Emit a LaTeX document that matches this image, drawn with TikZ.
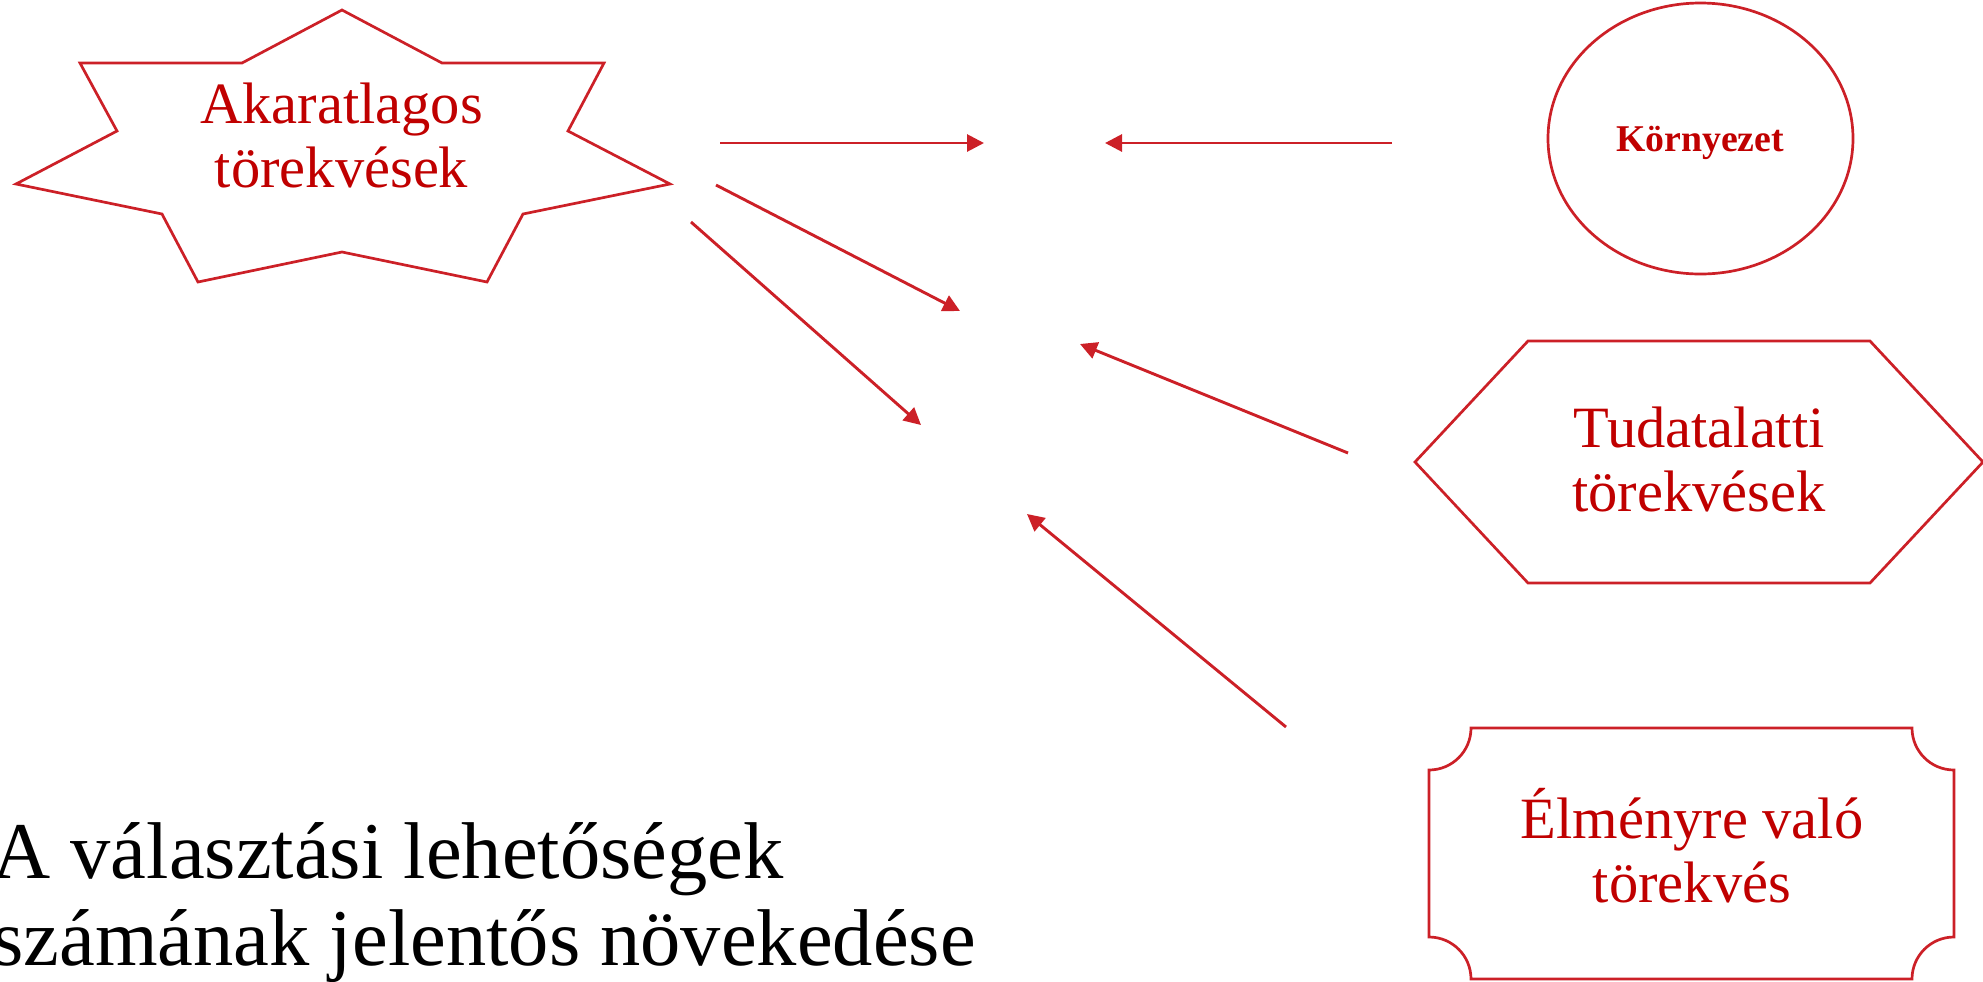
\documentclass[tikz,border=0pt]{standalone}
\usepackage{fontspec}
\setmainfont{Liberation Serif}
\usetikzlibrary{arrows.meta,shapes.geometric}
\definecolor{linered}{RGB}{204,32,39}
\definecolor{textred}{RGB}{192,0,0}
\newcommand{\twolines}[3][c]{\begin{tabular}[t]{@{}#1@{}}#2\\#3\end{tabular}}
\begin{document}
\begin{tikzpicture}[x=0.5pt,y=-0.5pt,
  shapeline/.style={draw=linered,line width=1.35pt,line join=miter},
  conn/.style={draw=linered,line width=1.45pt,-{Triangle[length=8.5pt,width=8.5pt]}},
  redtext/.style={text=textred,inner sep=0pt,anchor=base,font=\fontsize{29.25}{32.25}\selectfont},
]
\useasboundingbox (0,0) rectangle (1983,981);

% seven-point star
\draw[shapeline] (342,10) -- (442,63) -- (604,63) -- (568,131) -- (670,184) -- (523,214)
  -- (487,282) -- (342,252) -- (198,282) -- (162,214) -- (16,184) -- (117,131)
  -- (80,63) -- (242,63) -- cycle;

% ellipse
\node[shapeline, ellipse, minimum width=152.5pt, minimum height=135.5pt, inner sep=0pt] (envshape) at (1700.5,138.5) {};

% hexagon
\draw[shapeline] (1415,462) -- (1528,341) -- (1870,341) -- (1983,462) -- (1870,583) -- (1528,583) -- cycle;

% plaque
\draw[shapeline] (1471,728) -- (1912,728)
  .. controls (1912,751.2) and (1930.8,770) .. (1954,770)
  -- (1954,937)
  .. controls (1930.8,937) and (1912,955.8) .. (1912,979)
  -- (1471,979)
  .. controls (1471,955.8) and (1452.2,937) .. (1429,937)
  -- (1429,770)
  .. controls (1452.2,770) and (1471,751.2) .. (1471,728) -- cycle;

% texts
\node[redtext] (akarat) at (341.5,123) {\twolines{Akaratlagos}{törekvések}};
\node[redtext, font=\bfseries\fontsize{18.9}{22}\selectfont] (env) at (1700,151) {Környezet};
\node[redtext] (tudat) at (1699,447) {\twolines{Tudatalatti}{törekvések}};
\node[redtext] (elmeny) at (1692,838) {\twolines{Élményre való}{törekvés}};
\node[inner sep=0pt, anchor=base west, font=\fontsize{40.25}{43.5}\selectfont] (choice) at (-8,878)
  {\twolines[l]{A választási lehetőségek}{számának jelentős növekedése}};

% connectors
\coordinate (a1s) at (720,143);  \coordinate (a1e) at (984,143);
\coordinate (a2s) at (1392,143); \coordinate (a2e) at (1105,143);
\coordinate (a3s) at (716,185);  \coordinate (a3e) at (960,311);
\coordinate (a4s) at (691,222);  \coordinate (a4e) at (921,425);
\coordinate (a5s) at (1348,453); \coordinate (a5e) at (1080,344);
\coordinate (a6s) at (1286,727); \coordinate (a6e) at (1027,514);
\draw[conn] (a1s) -- (a1e);
\draw[conn] (a2s) -- (a2e);
\draw[conn] (a3s) -- (a3e);
\draw[conn] (a4s) -- (a4e);
\draw[conn] (a5s) -- (a5e);
\draw[conn] (a6s) -- (a6e);
\end{tikzpicture}
\end{document}
